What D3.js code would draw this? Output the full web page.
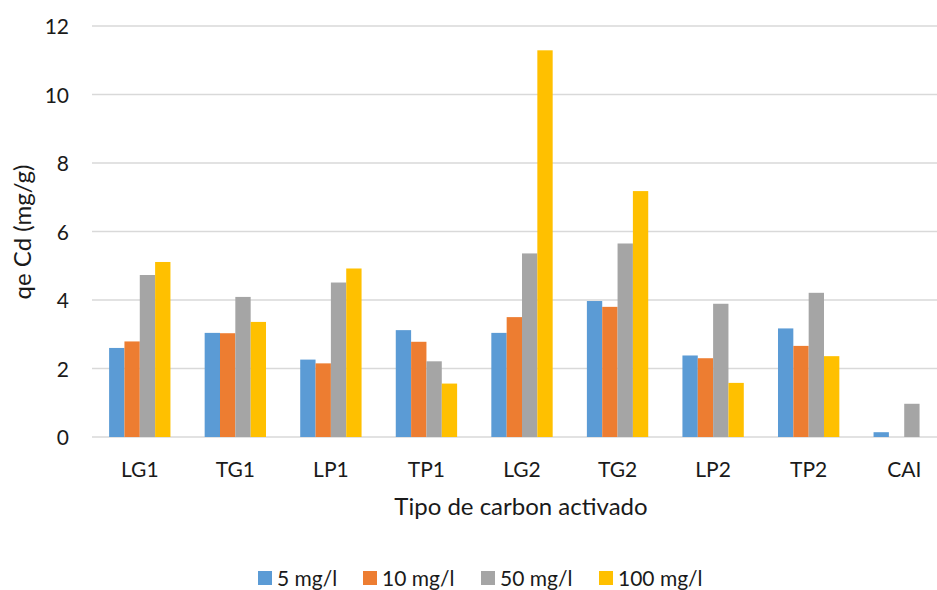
<!DOCTYPE html>
<html>
<head>
<meta charset="utf-8">
<script src="https://cdn.jsdelivr.net/npm/d3@7"></script>
<style>
  body { margin: 0; background: #fff; }
  text { font-family: Lato, "Open Sans", sans-serif; fill: #1a1a1a; }
</style>
</head>
<body>
<div class="canvas"></div>
<script>
// data
const categories = ['LG1', 'TG1', 'LP1', 'TP1', 'LG2', 'TG2', 'LP2', 'TP2', 'CAI'];
const seriesNames = ['5 mg/l', '10 mg/l', '50 mg/l', '100 mg/l'];
const s5 = [2.60, 3.04, 2.26, 3.12, 3.04, 3.97, 2.38, 3.17, 0.14];
const s10 = [2.79, 3.03, 2.15, 2.78, 3.50, 3.80, 2.30, 2.66, 0];
const s50 = [4.73, 4.09, 4.51, 2.21, 5.36, 5.65, 3.89, 4.21, 0.97];
const s100 = [5.11, 3.36, 4.92, 1.56, 11.29, 7.18, 1.58, 2.36, 0];
const yTicks = [0, 2, 4, 6, 8, 10, 12];

const colors = ['#5B9BD5', '#ED7D31', '#A5A5A5', '#FFC000'];
const allSeries = [s5, s10, s50, s100];

const width = 937, height = 590;
const textColor = '#1a1a1a';

const svg = d3.select('.canvas')
  .append('svg')
  .attr('width', width)
  .attr('height', height);

// plot area (right side is cut off in the original)
const plotLeft = 92, plotRight = 952, plotTop = 26, plotBottom = 437;

const y = d3.scaleLinear().domain([0, 12]).range([plotBottom, plotTop]);

const x0 = d3.scaleBand()
  .domain(categories)
  .range([plotLeft, plotRight])
  .paddingInner(0.358)
  .paddingOuter(0.179);

const x1 = d3.scaleBand()
  .domain(d3.range(seriesNames.length))
  .range([0, x0.bandwidth()]);

// gridlines
svg.append('g')
  .selectAll('line')
  .data(yTicks)
  .enter()
  .append('line')
  .attr('x1', plotLeft)
  .attr('x2', width)
  .attr('y1', d => y(d))
  .attr('y2', d => y(d))
  .attr('stroke', '#D9D9D9')
  .attr('stroke-width', 1.3);

// y tick labels
const yAxis = d3.axisLeft(y).tickValues(yTicks).tickSize(0).tickPadding(0);
const yAxisGroup = svg.append('g')
  .attr('transform', `translate(69, 0)`)
  .call(yAxis);
yAxisGroup.select('.domain').remove();
yAxisGroup.selectAll('text')
  .attr('font-size', 21)
  .attr('font-family', null)
  .attr('fill', textColor)
  .attr('dy', null)
  .attr('y', 7.5);

// bars
const groups = svg.append('g')
  .selectAll('g')
  .data(categories)
  .enter()
  .append('g')
  .attr('transform', d => `translate(${x0(d)}, 0)`);

groups.selectAll('rect')
  .data((c, i) => allSeries.map((s, k) => ({ k, v: s[i] })))
  .enter()
  .append('rect')
  .attr('x', d => x1(d.k))
  .attr('width', x1.bandwidth())
  .attr('y', d => y(d.v))
  .attr('height', d => plotBottom - y(d.v))
  .attr('fill', d => colors[d.k]);

// x category labels
const xAxis = d3.axisBottom(x0).tickSize(0).tickPadding(0);
const xAxisGroup = svg.append('g')
  .attr('transform', `translate(0, 477)`)
  .call(xAxis);
xAxisGroup.select('.domain').remove();
xAxisGroup.selectAll('text')
  .attr('font-size', 21)
  .attr('font-family', null)
  .attr('fill', textColor)
  .attr('dy', null)
  .attr('y', 0);

// axis titles
svg.append('text')
  .attr('x', 521)
  .attr('y', 515)
  .attr('text-anchor', 'middle')
  .attr('font-size', 24)
  .text('Tipo de carbon activado');

svg.append('text')
  .attr('transform', 'translate(31, 232) rotate(-90)')
  .attr('text-anchor', 'middle')
  .attr('font-size', 24)
  .text('qe Cd (mg/g)');

// legend
const legendX = [258, 363, 481, 599];
const legend = svg.append('g')
  .selectAll('g')
  .data(seriesNames)
  .enter()
  .append('g')
  .attr('transform', (d, i) => `translate(${legendX[i]}, 571)`);

legend.append('rect')
  .attr('width', 14)
  .attr('height', 14)
  .attr('fill', (d, i) => colors[i]);

legend.append('text')
  .attr('x', 19)
  .attr('y', 15)
  .attr('font-size', 21)
  .text(d => d);
</script>
</body>
</html>
